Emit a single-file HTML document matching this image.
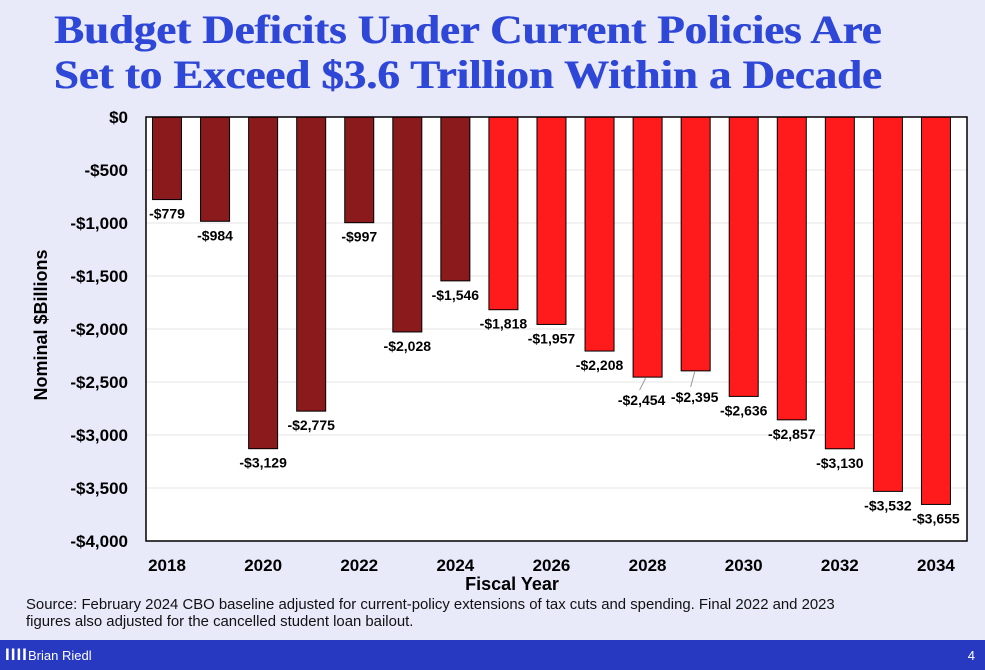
<!DOCTYPE html>
<html><head><meta charset="utf-8"><style>
body{margin:0;width:985px;height:670px;background:#e8eafa;font-family:"Liberation Sans",sans-serif;overflow:hidden;position:relative}
#title{position:absolute;left:0;top:7px;width:935px;text-align:center;font-family:"Liberation Serif",serif;font-weight:bold;font-size:40px;line-height:45px;color:#2f47d6;transform:scaleX(1.12);transform-origin:466px 0;text-shadow:0.6px 0 0 #2f47d6}
#src{position:absolute;left:26px;top:597px;font-size:14.9px;line-height:17px;color:#111;transform:scaleX(1.0);transform-origin:0 0}
#footer{position:absolute;left:0;top:640px;width:985px;height:30px;background:#2639c0}
</style></head><body>
<div id="title">Budget Deficits Under Current Policies Are<br>Set to Exceed $3.6 Trillion Within a Decade</div>
<svg id="chart" width="985" height="600" style="position:absolute;left:0;top:0"></svg>
<div id="src">Source: February 2024 CBO baseline adjusted for current-policy extensions of tax cuts and spending. Final 2022 and 2023<br>figures also adjusted for the cancelled student loan bailout.</div>
<div id="footer">
<span style="position:absolute;left:5px;top:5px;color:#fff;font-weight:bold;font-size:17px;letter-spacing:1px">IIII</span>
<span style="position:absolute;left:28px;top:8px;color:#fff;font-size:13px">Brian Riedl</span>
<span style="position:absolute;right:10px;top:8px;color:#fff;font-size:13px">4</span>
</div>
<script>
const years=[2018,2019,2020,2021,2022,2023,2024,2025,2026,2027,2028,2029,2030,2031,2032,2033,2034];
const deficits=[-779,-984,-3129,-2775,-997,-2028,-1546,-1818,-1957,-2208,-2454,-2395,-2636,-2857,-3130,-3532,-3655];
const yTicks=[0,-500,-1000,-1500,-2000,-2500,-3000,-3500,-4000];
const xTickYears=[2018,2020,2022,2024,2026,2028,2030,2032,2034];
const lastActual=2024;
const NS="http://www.w3.org/2000/svg";
const svg=document.getElementById('chart');
const L=146,R=967,T=117,B=541;
const y=v=>T+(0-v)/4000*(B-T);
const x=yr=>167+(yr-2018)*48.06;
const bw=29;
function mk(tag,attrs){const e=document.createElementNS(NS,tag);for(const k in attrs)e.setAttribute(k,attrs[k]);svg.appendChild(e);return e;}
const bg=mk('rect',{x:L,y:T,width:R-L,height:B-T,fill:'#fff'});


yTicks.forEach(v=>{
  const g=mk('line',{x1:L,x2:R,y1:y(v),y2:y(v),stroke:'#e4e4e4','stroke-width':1});
  
  
  const t=mk('text',{x:L-18,y:y(v)+6,'text-anchor':'end','font-size':17,'font-weight':'bold',fill:'#000'});
  t.textContent=v===0?'$0':'-$'+Math.abs(v).toLocaleString('en-US');
  
  
});
xTickYears.forEach(yr=>{
  const t=mk('text',{x:x(yr),y:571,'text-anchor':'middle','font-size':17,'font-weight':'bold'});
  t.textContent=yr;
  
  
});
years.forEach((yr,i)=>{
  const v=deficits[i];
  const r=mk('rect',{x:x(yr)-bw/2,y:y(0),width:bw,height:y(v)-y(0),fill:yr<=lastActual?'#8a1a1c':'#ff1b1b',stroke:'#000','stroke-width':1});
  
  
  let lx=x(yr),ly=y(v)+19;
  if(yr===2028){lx-=6;ly=y(v)+28;const l=mk('line',{x1:x(yr)-2,y1:y(v)+1,x2:x(yr)-8,y2:y(v)+13,stroke:'#999'});}
  if(yr===2029){lx-=1;ly=y(v)+31;const l=mk('line',{x1:x(yr)-1,y1:y(v)+1,x2:x(yr)-5,y2:y(v)+16,stroke:'#999'});}
  const t=mk('text',{x:lx,y:ly,'text-anchor':'middle','font-size':14,'font-weight':'bold'});
  t.textContent='-$'+Math.abs(v).toLocaleString('en-US');
  
  
});
const fr=mk('rect',{x:L,y:T,width:R-L,height:B-T,fill:'none',stroke:'#000','stroke-width':1.5});


const xt=mk('text',{x:512,y:590,'text-anchor':'middle','font-size':18,'font-weight':'bold'});
xt.textContent='Fiscal Year';


const yt=mk('text',{x:47,y:325,'text-anchor':'middle','font-size':18,'font-weight':'bold',transform:'rotate(-90 47 325)'});
yt.textContent='Nominal $Billions';


</script>
</body></html>
